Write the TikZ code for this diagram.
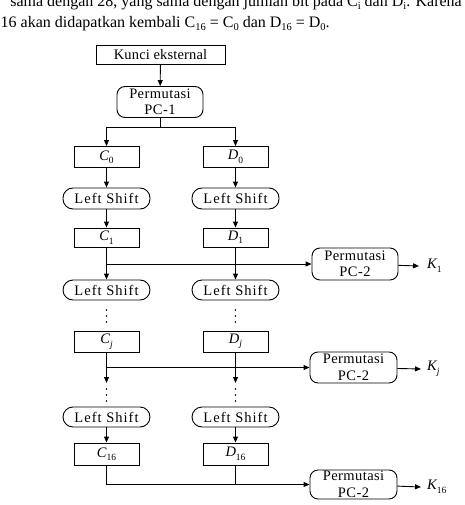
\documentclass[tikz,border=0pt]{standalone}
\usepackage{fontspec}
\setmainfont{Liberation Serif}
\usetikzlibrary{arrows.meta}
\newcommand\lowsub[1]{\raisebox{-3.5pt}{\fontsize{9.5}{9.5}\selectfont #1}}
\newcommand\bodysub[1]{\raisebox{-2.8pt}{\fontsize{10.5}{10.5}\selectfont #1}}
\tikzset{
  lbl/.style={font=\fontsize{14.5}{16.5}\selectfont, inner sep=0pt, align=center},
  keybox/.style={lbl, draw, line width=0.9pt, minimum width=65pt, minimum height=20pt},
  pcbox/.style={lbl, draw, line width=0.9pt, rounded corners=8pt, minimum width=86pt, minimum height=31pt},
  shiftbox/.style={lbl, draw, line width=0.9pt, rounded corners=10pt, minimum width=87pt, minimum height=20pt},
  conn/.style={line width=0.9pt},
  arr/.style={conn, -{Triangle[length=6pt,width=5pt]}},
  outlbl/.style={font=\fontsize{14.5}{16}\selectfont, inner sep=0pt},
  bodytext/.style={font=\fontsize{16}{16}\selectfont, inner sep=0pt},
}
\newcommand\vdotsat[1]{\foreach \dy in {-6,0,6} {\fill ([yshift=\dy pt]#1) circle (0.9pt);}}
\newcommand\lstext{\addfontfeature{LetterSpace=7}Left Shift}
\newcommand\pctext[1]{\addfontfeature{LetterSpace=3}Permutasi\\\addfontfeature{LetterSpace=3}#1}
\begin{document}
\begin{tikzpicture}[x=1pt,y=-1pt]
\useasboundingbox (0,0) rectangle (464,505);
\clip (0,0) rectangle (464,505);
% body text
\node[bodytext, anchor=base east] (line1) at (462,6.5) {sama dengan 28, yang sama dengan jumlah bit pada C\bodysub{i} dan D\bodysub{i}. Karena};
\node[bodytext, anchor=base west] (line2) at (0.5,27.5) {16 akan didapatkan kembali C\bodysub{16} = C\bodysub{0} dan D\bodysub{16} = D\bodysub{0}.};
% nodes
\node[keybox, minimum width=129pt, minimum height=19pt] (kunci) at (160.5,54.5) {\addfontfeature{LetterSpace=1}Kunci eksternal};
\node[pcbox] (pc1) at (160,102) {\pctext{PC-1}};
\node[keybox, minimum height=21pt] (C0) at (106.5,157) {\itshape C\lowsub{\upshape 0}};
\node[keybox, minimum height=21pt] (D0) at (235.5,157) {\itshape D\lowsub{\upshape 0}};
\node[shiftbox, minimum height=21pt] (LSc1) at (106.5,198.5) {\lstext};
\node[shiftbox, minimum height=21pt] (LSd1) at (235.5,198.5) {\lstext};
\node[keybox, minimum height=19pt] (C1) at (106.5,237.5) {\itshape C\lowsub{\upshape 1}};
\node[keybox, minimum height=19pt] (D1) at (235.5,237.5) {\itshape D\lowsub{\upshape 1}};
\node[pcbox, minimum height=32pt] (pc2a) at (355,264) {\pctext{PC-2}};
\node[outlbl, anchor=west] (K1) at (427,266) {\itshape K\lowsub{\upshape 1}};
\node[shiftbox] (LSc2) at (106.5,290) {\lstext};
\node[shiftbox] (LSd2) at (235.5,290) {\lstext};
\node[keybox, minimum height=21pt] (Cj) at (106.5,341.5) {\itshape C\lowsub{j}};
\node[keybox, minimum height=21pt] (Dj) at (235.5,341.5) {\itshape D\lowsub{j}};
\node[pcbox, minimum width=87pt] (pc2b) at (353.5,367.5) {\pctext{PC-2}};
\node[outlbl, anchor=west] (Kj) at (427,369) {\itshape K\lowsub{j}};
\node[shiftbox] (LSc3) at (106.5,417) {\lstext};
\node[shiftbox] (LSd3) at (235.5,417) {\lstext};
\node[keybox, minimum height=22pt] (C16) at (106.5,454) {\itshape C\lowsub{\upshape 16}};
\node[keybox, minimum height=22pt] (D16) at (235.5,454) {\itshape D\lowsub{\upshape 16}};
\node[pcbox, minimum width=87pt, minimum height=29pt] (pc2c) at (353.5,484.5) {\pctext{PC-2}};
\node[outlbl, anchor=west] (K16) at (427,487) {\itshape K\lowsub{\upshape 16}};
% coordinates
\coordinate (br) at (160,127);
\coordinate (dotC1) at (106.5,316);
\coordinate (dotD1) at (235.5,316);
\coordinate (cjend) at (106.5,383);
\coordinate (djend) at (235.5,383);
\coordinate (dotC2) at (106.5,395);
\coordinate (dotD2) at (235.5,395);
% connectors
\draw[arr] (kunci) -- (pc1);
\draw[conn] (pc1) -- (br);
\draw[arr] (br) -| (C0);
\draw[arr] (br) -| (D0);
\draw[arr] (C0) -- (LSc1);
\draw[arr] (D0) -- (LSd1);
\draw[arr] (LSc1) -- (C1);
\draw[arr] (LSd1) -- (D1);
\draw[arr] (C1) -- (LSc2);
\draw[arr] (D1) -- (LSd2);
\draw[arr] (C1 |- pc2a) -- (pc2a);
\draw[arr] (pc2a) -- ([xshift=-8pt]K1.west);
\vdotsat{dotC1}
\vdotsat{dotD1}
\draw[arr] (Cj) -- (cjend);
\draw[arr] (Dj) -- (djend);
\draw[arr] (Cj |- pc2b) -- (pc2b);
\draw[arr] (pc2b) -- ([xshift=-6pt]Kj.west);
\vdotsat{dotC2}
\vdotsat{dotD2}
\draw[arr] (LSc3) -- (C16);
\draw[arr] (LSd3) -- (D16);
\draw[arr] (C16) |- (pc2c);
\draw[conn] (D16) -- (D16 |- pc2c);
\draw[arr] (pc2c) -- ([xshift=-6pt]K16.west);
\end{tikzpicture}
\end{document}
